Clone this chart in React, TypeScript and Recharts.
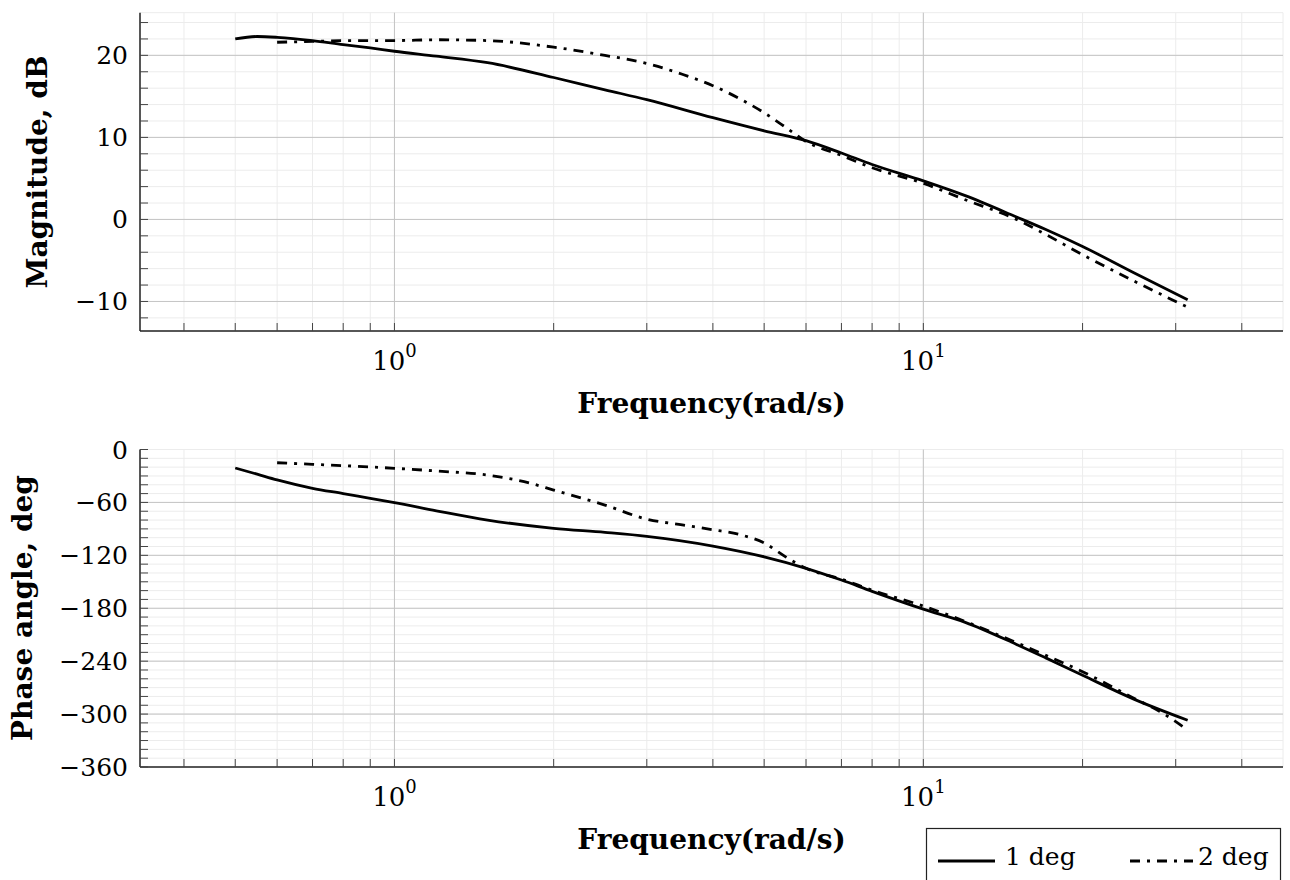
import React from "react";
import {
  CartesianGrid,
  Line,
  LineChart,
  ReferenceLine,
  XAxis,
  YAxis,
} from "recharts";

// frequency axis (log)
const freqDomain = [0.3303, 47.86];
const freqMajor = [1, 10];
const freqMajorExp = ["0", "1"];
const freqMinor = [0.4, 0.5, 0.6, 0.7, 0.8, 0.9, 2, 3, 4, 5, 6, 7, 8, 9, 20, 30, 40];

// magnitude axis
const magDomain = [-13.6, 25.2];
const magMajor = [-10, 0, 10, 20];
const magMinor = [-12, -8, -6, -4, -2, 2, 4, 6, 8, 12, 14, 16, 18, 22, 24];

// phase axis
const phaseDomain = [-360, 0];
const phaseMajor = [-360, -300, -240, -180, -120, -60, 0];
const phaseMinor = [
  -350, -340, -330, -320, -310, -290, -280, -270, -260, -250, -230, -220, -210,
  -200, -190, -170, -160, -150, -140, -130, -110, -100, -90, -80, -70, -50, -40,
  -30, -20, -10,
];

// 1 deg
const magFreq1 = [0.5, 0.55, 0.6, 0.7, 0.8, 0.9, 1, 1.2, 1.5, 2, 2.5, 3, 4, 5, 6, 7, 8, 10, 12, 15, 17, 20, 25, 31.6];
const mag1 = [22.0, 22.3, 22.2, 21.8, 21.3, 20.9, 20.5, 19.9, 19.1, 17.3, 15.8, 14.6, 12.4, 10.8, 9.6, 8.1, 6.7, 4.7, 2.9, 0.3, -1.2, -3.3, -6.5, -9.8];
const phaseFreq1 = magFreq1;
const phase1 = [-21, -28, -34.5, -44, -50, -55.5, -60.3, -69.5, -80, -89.4, -94, -98.5, -109.5, -121.7, -134.7, -148, -160.8, -181, -196, -221, -236, -256, -283, -307];

// 2 deg
const magFreq2 = [0.6, 0.7, 0.8, 1, 1.2, 1.5, 2, 2.5, 3, 3.5, 4, 4.5, 5, 5.5, 6, 7, 8, 10, 12, 15, 17, 20, 25, 31.6];
const mag2 = [21.6, 21.7, 21.8, 21.8, 21.9, 21.8, 21.0, 20.0, 19.0, 17.7, 16.3, 14.7, 13.0, 11.2, 9.5, 7.8, 6.3, 4.4, 2.4, 0.0, -1.8, -4.3, -7.5, -10.7];
const phaseFreq2 = [0.6, 0.7, 0.8, 1, 1.2, 1.5, 1.8, 2, 2.5, 3, 3.5, 4, 4.5, 5, 5.5, 6, 7, 8, 10, 12, 15, 17, 20, 25, 28, 31.6];
const phase2 = [-15, -16.8, -18.3, -21.3, -24.4, -29, -38, -46, -63, -79, -85.5, -91, -96.5, -106, -122, -134.7, -147, -159.5, -177.5, -195, -219, -233, -252, -282, -297, -318];

const seriesNames = ["1 deg", "2 deg"];

const SERIF = "'DejaVu Serif', serif";
const DASHDOT = "10 7 3 7";
const LINE_W = 2.8;

const toPoints = (fs: number[], vs: number[]) => fs.map((f, i) => ({ f, v: vs[i] }));

const fmt = (v: number) => (v < 0 ? "\u2212" + Math.abs(v) : String(v));

function FreqTick({ x, y, payload }: any) {
  const i = freqMajor.indexOf(payload.value);
  if (i < 0) return <g />;
  return (
    <text x={x} y={y + 47} textAnchor="middle" fontFamily={SERIF} fontSize={26} fill="#000">
      10
      <tspan dy={-13} fontSize={18}>
        {freqMajorExp[i]}
      </tspan>
    </text>
  );
}

const makeValueTick =
  (major: number[]) =>
  ({ x, y, payload }: any) => {
    if (!major.includes(payload.value)) return <g />;
    return (
      <text x={x - 20} y={y + 9} textAnchor="end" fontFamily={SERIF} fontSize={25} fill="#000">
        {fmt(payload.value)}
      </text>
    );
  };

function BodePanel({
  top,
  height,
  marginTop,
  axisHeight,
  yDomain,
  yMajor,
  yMinor,
  s1,
  s2,
}: {
  top: number;
  height: number;
  marginTop: number;
  axisHeight: number;
  yDomain: number[];
  yMajor: number[];
  yMinor: number[];
  s1: { f: number; v: number }[];
  s2: { f: number; v: number }[];
}) {
  const yTicks = [...yMajor, ...yMinor].sort((a, b) => a - b);
  const xTicks = [...freqMajor, ...freqMinor].sort((a, b) => a - b);
  return (
    <div style={{ position: "absolute", left: 0, top, width: 1290, height }}>
      <LineChart width={1290} height={height} margin={{ top: marginTop, right: 7, bottom: 0, left: 0 }}>
        <CartesianGrid stroke="#ececec" strokeWidth={1} />
        {freqMajor.map((f) => (
          <ReferenceLine key={"x" + f} x={f} stroke="#c4c4c4" strokeWidth={1} />
        ))}
        {yMajor
          .filter((v) => v > yDomain[0] && v < yDomain[1])
          .map((v) => (
            <ReferenceLine key={"y" + v} y={v} stroke="#c4c4c4" strokeWidth={1} />
          ))}
        <XAxis
          dataKey="f"
          type="number"
          scale="log"
          domain={freqDomain}
          allowDataOverflow
          ticks={xTicks}
          interval={0}
          height={axisHeight}
          tickSize={-8}
          tickMargin={0}
          tick={FreqTick}
          tickLine={{ stroke: "#444", strokeWidth: 1 }}
          axisLine={{ stroke: "#222", strokeWidth: 1.5 }}
        />
        <XAxis
          xAxisId="top"
          orientation="top"
          dataKey="f"
          type="number"
          scale="log"
          domain={freqDomain}
          allowDataOverflow
          height={0}
          tick={false}
          tickLine={false}
          axisLine={{ stroke: "#222", strokeWidth: 1.5 }}
        />
        <YAxis
          type="number"
          domain={yDomain}
          allowDataOverflow
          ticks={yTicks}
          interval={0}
          width={140}
          tickSize={-8}
          tickMargin={0}
          tick={makeValueTick(yMajor)}
          tickLine={{ stroke: "#444", strokeWidth: 1 }}
          axisLine={{ stroke: "#222", strokeWidth: 1.5 }}
        />
        <YAxis
          yAxisId="right"
          orientation="right"
          type="number"
          domain={yDomain}
          allowDataOverflow
          width={0}
          tick={false}
          tickLine={false}
          axisLine={{ stroke: "#222", strokeWidth: 1.5 }}
        />
        <Line
          data={s1}
          dataKey="v"
          name={seriesNames[0]}
          type="monotone"
          stroke="#000"
          strokeWidth={LINE_W}
          dot={false}
          isAnimationActive={false}
        />
        <Line
          data={s2}
          dataKey="v"
          name={seriesNames[1]}
          type="monotone"
          stroke="#000"
          strokeWidth={LINE_W}
          strokeDasharray={DASHDOT}
          dot={false}
          isAnimationActive={false}
        />
      </LineChart>
    </div>
  );
}

export default function App() {
  const titleStyle = { fontFamily: SERIF, fontWeight: 700, fontSize: 28 } as const;
  return (
    <div style={{ position: "absolute", left: 0, top: 0, width: 1290, height: 880, background: "#fff", overflow: "hidden" }}>
      <BodePanel
        top={0}
        height={420}
        marginTop={12.7}
        axisHeight={89}
        yDomain={magDomain}
        yMajor={magMajor}
        yMinor={magMinor}
        s1={toPoints(magFreq1, mag1)}
        s2={toPoints(magFreq2, mag2)}
      />
      <BodePanel
        top={420}
        height={460}
        marginTop={29.5}
        axisHeight={113}
        yDomain={phaseDomain}
        yMajor={phaseMajor}
        yMinor={phaseMinor}
        s1={toPoints(phaseFreq1, phase1)}
        s2={toPoints(phaseFreq2, phase2)}
      />
      <svg width={1290} height={880} style={{ position: "absolute", left: 0, top: 0, pointerEvents: "none" }}>
        <text x={711.5} y={413} textAnchor="middle" {...titleStyle}>
          Frequency(rad/s)
        </text>
        <text x={711.5} y={849} textAnchor="middle" {...titleStyle}>
          Frequency(rad/s)
        </text>
        <text x={47} y={172} textAnchor="middle" transform="rotate(-90 47 172)" {...titleStyle}>
          Magnitude, dB
        </text>
        <text x={32} y={608} textAnchor="middle" transform="rotate(-90 32 608)" {...titleStyle}>
          Phase angle, deg
        </text>
        <g>
          <rect x={926.5} y={828.5} width={354} height={60} fill="#fff" stroke="#222" strokeWidth={1.2} />
          <line x1={938} y1={861} x2={995} y2={861} stroke="#000" strokeWidth={LINE_W} />
          <text x={1005} y={865} fontFamily={SERIF} fontSize={25} fill="#000">
            {seriesNames[0]}
          </text>
          <line x1={1130} y1={861} x2={1193} y2={861} stroke="#000" strokeWidth={LINE_W} strokeDasharray={DASHDOT} />
          <text x={1198} y={865} fontFamily={SERIF} fontSize={25} fill="#000">
            {seriesNames[1]}
          </text>
        </g>
      </svg>
    </div>
  );
}
